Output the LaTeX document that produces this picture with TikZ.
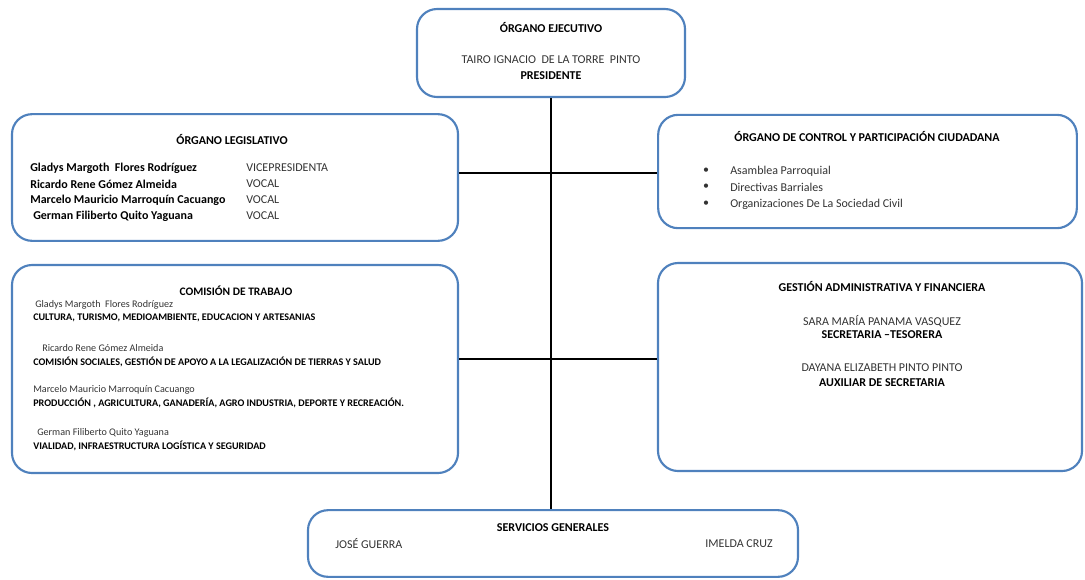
\documentclass[tikz,border=0pt]{standalone}
\usepackage{fontspec}
\setmainfont{Carlito}
\usepackage{tikz}

\tikzset{
  box/.style={draw=blue2, line width=1.6pt, rounded corners=15pt, inner sep=0pt},
  conn/.style={draw=black, line width=1.7pt},
  ttl/.style={font=\fontsize{9}{11}\selectfont\bfseries, inner sep=0pt},
  txt/.style={font=\fontsize{9}{11}\selectfont, text=black!80, inner sep=0pt},
  btxt/.style={font=\fontsize{9}{11}\selectfont\bfseries, inner sep=0pt},
  smtxt/.style={font=\fontsize{7.6}{9}\selectfont, text=black!80, inner sep=0pt},
  smbtxt/.style={font=\fontsize{7.6}{9}\selectfont\bfseries, inner sep=0pt}
}
\definecolor{blue2}{RGB}{79,129,189}

\begin{document}
\begin{tikzpicture}[x=0.75pt,y=0.75pt,yscale=-1]
\useasboundingbox (0,0) rectangle (1085,579);

%Shape: Rounded Rect [id:ejecutivo]
\node [box, minimum width=201pt, minimum height=66pt] (ejec) at (551,53) {};
%Shape: Rounded Rect [id:legislativo]
\node [box, minimum width=334.5pt, minimum height=95pt] (leg) at (235,177.5) {};
%Shape: Rounded Rect [id:control]
\node [box, minimum width=314pt, minimum height=85pt] (ctrl) at (867.5,171.5) {};
%Shape: Rounded Rect [id:comision]
\node [box, minimum width=334.5pt, minimum height=156pt] (com) at (235,369) {};
%Shape: Rounded Rect [id:gestion]
\node [box, minimum width=318pt, minimum height=156pt] (gest) at (870,367) {};
%Shape: Rounded Rect [id:servicios]
\node [box, minimum width=367.5pt, minimum height=50pt] (serv) at (553,543.5) {};

%Straight Lines
\draw [conn] (ejec.south) -- (ejec.south |- serv.north) ;
\draw [conn] (leg.east |- 0,173) -- (ctrl.west |- 0,173) ;
\draw [conn] (com.east |- 0,359) -- (gest.west |- 0,359) ;

% Text Node
\draw (551,28) node [ttl] (ejecT) {ÓRGANO EJECUTIVO};
\draw (551,60) node [txt] (ejecN) {TAIRO IGNACIO\ \ DE LA TORRE\ \ PINTO};
\draw (551,76) node [btxt] (ejecC) {PRESIDENTE};

% Text Node
\draw (232,139) node [ttl] (legT) {ÓRGANO LEGISLATIVO};
\draw (30,168) node [btxt, anchor=west] (legN1) {Gladys Margoth\ \ Flores Rodríguez};
\draw (30,184) node [btxt, anchor=west] (legN2) {Ricardo Rene Gómez Almeida};
\draw (30,200) node [btxt, anchor=west] (legN3) {Marcelo Mauricio Marroquín Cacuango};
\draw (33,216) node [btxt, anchor=west] (legN4) {German Filiberto Quito Yaguana};
\draw (246,168) node [txt, anchor=west] (legR1) {VICEPRESIDENTA};
\draw (246,184) node [txt, anchor=west] (legR2) {VOCAL};
\draw (246,200) node [txt, anchor=west] (legR3) {VOCAL};
\draw (246,216) node [txt, anchor=west] (legR4) {VOCAL};

% Text Node
\draw (867,137) node [ttl] (ctrlT) {ÓRGANO DE CONTROL Y PARTICIPACIÓN CIUDADANA};
\foreach \y/\t [count=\i] in {171/Asamblea Parroquial, 187/Directivas Barriales, 204/Organizaciones De La Sociedad Civil}{
  \draw (706,\y) node [txt] (ctrlB\i) {•};
  \draw (730,\y) node [txt, anchor=west] (ctrlI\i) {\t};
}

% Text Node
\draw (236,291) node [ttl, font=\fontsize{8.6}{10}\selectfont\bfseries] (comT) {COMISIÓN DE TRABAJO};
\draw (35,305) node [smtxt, anchor=west] (comN1) {Gladys Margoth\ \ Flores Rodríguez};
\draw (33,318) node [smbtxt, anchor=west] (comA1) {CULTURA, TURISMO, MEDIOAMBIENTE, EDUCACION Y ARTESANIAS};
\draw (42,348) node [smtxt, anchor=west] (comN2) {Ricardo Rene Gómez Almeida};
\draw (33,362) node [smbtxt, anchor=west] (comA2) {COMISIÓN SOCIALES, GESTIÓN DE APOYO A LA LEGALIZACIÓN DE TIERRAS Y SALUD};
\draw (33,390) node [smtxt, anchor=west] (comN3) {Marcelo Mauricio Marroquín Cacuango};
\draw (33,403) node [smbtxt, anchor=west] (comA3) {PRODUCCIÓN , AGRICULTURA, GANADERÍA, AGRO INDUSTRIA, DEPORTE Y RECREACIÓN.};
\draw (37,433) node [smtxt, anchor=west] (comN4) {German Filiberto Quito Yaguana};
\draw (33,446) node [smbtxt, anchor=west] (comA4) {VIALIDAD, INFRAESTRUCTURA LOGÍSTICA Y SEGURIDAD};

% Text Node
\draw (882,286) node [ttl] (gestT) {GESTIÓN ADMINISTRATIVA Y FINANCIERA};
\draw (882,321) node [txt] (gestN1) {SARA MARÍA PANAMA VASQUEZ};
\draw (882,335) node [btxt] (gestC1) {SECRETARIA –TESORERA};
\draw (882,368) node [txt] (gestN2) {DAYANA ELIZABETH PINTO PINTO};
\draw (882,383) node [btxt] (gestC2) {AUXILIAR DE SECRETARIA};

% Text Node
\draw (553,528) node [ttl] (servT) {SERVICIOS GENERALES};
\draw (335,544) node [txt, anchor=west] (servN1) {JOSÉ GUERRA};
\draw (773,544) node [txt, anchor=east] (servN2) {IMELDA CRUZ};

\end{tikzpicture}
\end{document}
